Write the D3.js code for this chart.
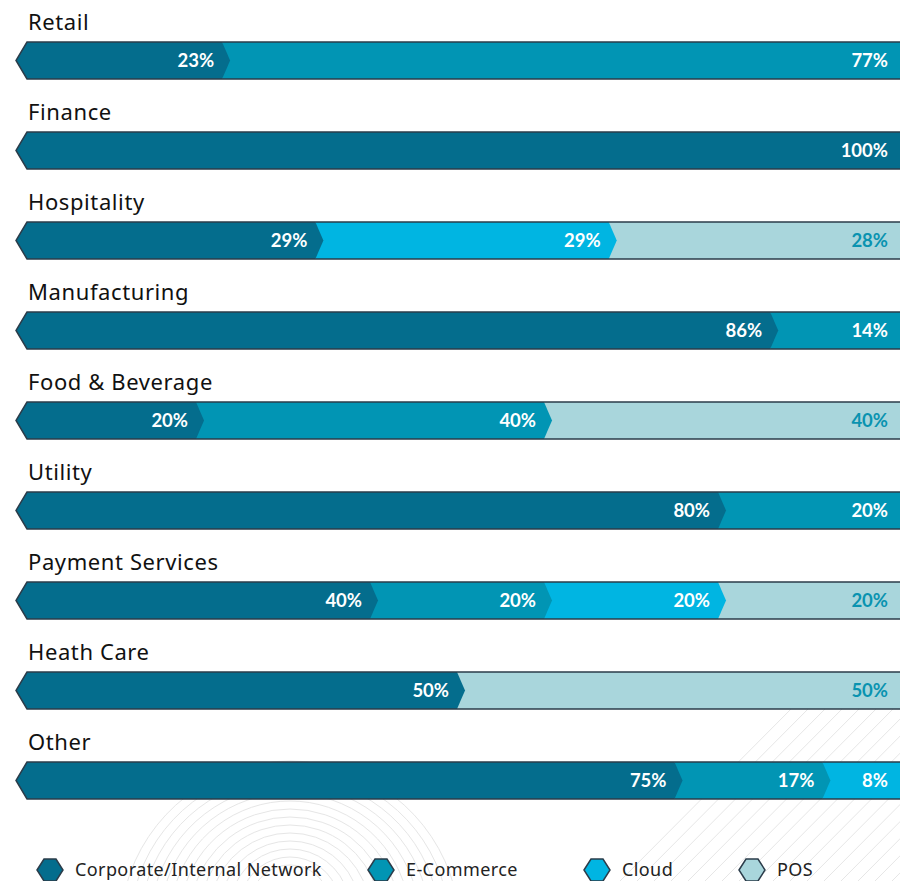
<!DOCTYPE html>
<html>
<head>
<meta charset="utf-8">
<script src="https://cdn.jsdelivr.net/npm/d3@7"></script>
<style>
  body { margin: 0; background: #fff; }
  svg { display: block; }
  .cat-label { font-family: "Noto Sans", sans-serif; font-size: 22px; letter-spacing: 0.6px; fill: #111; }
  .pct { font-family: Lato, sans-serif; font-weight: 700; font-size: 18.5px; }
  .legend-label { font-family: "Noto Sans", sans-serif; font-size: 18px; letter-spacing: 0.4px; fill: #222; }
</style>
</head>
<body>
<div id="chart"></div>
<script>
var categories = ['Retail', 'Finance', 'Hospitality', 'Manufacturing', 'Food & Beverage',
                  'Utility', 'Payment Services', 'Heath Care', 'Other'];

var seriesNames = ['Corporate/Internal Network', 'E-Commerce', 'Cloud', 'POS'];

var corporate = [23, 100, 29, 86, 20, 80, 40, 50, 75];
var ecommerce = [77, 0, 0, 14, 40, 20, 20, 0, 17];
var cloud     = [0, 0, 29, 0, 0, 0, 20, 0, 8];
var pos       = [0, 0, 28, 0, 40, 0, 20, 50, 0];

var colors     = ['#046d8d', '#0195b4', '#00b5e2', '#a9d6dc'];
var textColors = ['#fff', '#fff', '#fff', '#0a93b0'];
var border = '#2b3c4a';

var width = 900, height = 881;
var rowStep = 90, barTop = 42, barH = 37, chev = 4;

var svg = d3.select('#chart').append('svg')
  .attr('width', width)
  .attr('height', height);

// decorative background lines
var deco = svg.append('g').attr('fill', 'none').attr('stroke', '#e6e6e6').attr('stroke-width', 1);
d3.range(0, 14).forEach(function(i) {
  deco.append('path')
    .attr('d', d3.arc()({innerRadius: 0, outerRadius: 40 + i * 10, startAngle: -Math.PI / 2.4, endAngle: Math.PI / 2.4}))
    .attr('transform', 'translate(290,' + (905 + i * 2) + ')');
});
d3.range(0, 18).forEach(function(i) {
  deco.append('line')
    .attr('x1', 620 + i * 17).attr('y1', 881)
    .attr('x2', 800 + i * 17).attr('y2', 700);
});

var series = [corporate, ecommerce, cloud, pos];

categories.forEach(function(cat, r) {
  var top = barTop + r * rowStep;
  var mid = top + barH / 2;
  var bottom = top + barH;

  var segs = [];
  var acc = 0;
  series.forEach(function(s, k) {
    if (s[r] > 0) {
      segs.push({k: k, v: s[r], start: acc, end: acc + s[r]});
      acc += s[r];
    }
  });

  var x = d3.scaleLinear().domain([0, acc]).range([26, 896]);

  var g = svg.append('g').attr('class', 'row');

  g.append('text')
    .attr('class', 'cat-label')
    .attr('x', 28)
    .attr('y', top - 12)
    .text(cat);

  // draw from last to first so chevrons overlap the next segment
  segs.slice().reverse().forEach(function(d, idx) {
    var last = idx === 0;
    var x0 = d.start === 0 ? 27 : x(d.start) - chev;
    var x1 = last ? width + 10 : x(d.end);
    var pts;
    if (last) {
      pts = [[x0, top], [x1, top], [x1, bottom], [x0, bottom]];
    } else {
      pts = [[x0, top], [x1 - chev, top], [x1 + chev, mid], [x1 - chev, bottom], [x0, bottom]];
    }
    if (d.start === 0) pts.push([16, mid]);
    g.append('path')
      .attr('d', d3.line()(pts) + 'Z')
      .attr('fill', colors[d.k]);
  });

  segs.forEach(function(d, i) {
    var last = i === segs.length - 1;
    g.append('text')
      .attr('class', 'pct')
      .attr('x', last ? 888 : x(d.end) - 12)
      .attr('y', mid + 6.5)
      .attr('text-anchor', 'end')
      .attr('fill', textColors[d.k])
      .text(d.v + '%');
  });

  g.append('path')
    .attr('d', d3.line()([[width + 5, top], [27, top], [16, mid], [27, bottom], [width + 5, bottom]]))
    .attr('fill', 'none')
    .attr('stroke', border)
    .attr('stroke-width', 1.5);
});

// legend
var legendX = [50, 381, 597, 752];
var legendY = 870;
var hex = function(cx, cy) {
  return d3.line()([[cx - 13, cy], [cx - 6, cy - 11], [cx + 6, cy - 11], [cx + 13, cy],
                    [cx + 6, cy + 11], [cx - 6, cy + 11]]) + 'Z';
};
var legend = svg.append('g').attr('class', 'legend');
seriesNames.forEach(function(name, k) {
  legend.append('path')
    .attr('d', hex(legendX[k], legendY))
    .attr('fill', colors[k])
    .attr('stroke', border)
    .attr('stroke-width', 1.5);
  legend.append('text')
    .attr('class', 'legend-label')
    .attr('x', legendX[k] + 25)
    .attr('y', legendY + 6)
    .text(name);
});
</script>
</body>
</html>
